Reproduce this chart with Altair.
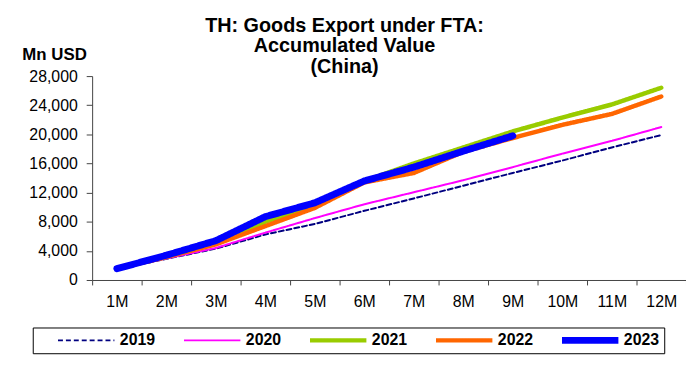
import altair as alt
import pandas as pd

months = ["1M", "2M", "3M", "4M", "5M", "6M", "7M", "8M", "9M", "10M", "11M", "12M"]
years = ["2019", "2020", "2021", "2022", "2023"]
v2019 = [1500, 2900, 4300, 6250, 7700, 9500, 11200, 12950, 14700, 16400, 18200, 19900]
v2020 = [1500, 2950, 4400, 6500, 8500, 10400, 12050, 13700, 15500, 17350, 19100, 21000]
v2021 = [1550, 3200, 5000, 8000, 10300, 13600, 16000, 18200, 20400, 22300, 24100, 26400]
v2022 = [1550, 3150, 4900, 7400, 9900, 13400, 14700, 17600, 19500, 21300, 22800, 25200]
v2023 = [1550, 3400, 5400, 8700, 10600, 13600, 15500, 17700, 19800]

colors = ["#000080", "#FF00FF", "#99CC00", "#FF6600", "#0000FF"]
widths = [2, 2, 4.5, 4.5, 7]
dashes = [[5, 3], [1, 0], [1, 0], [1, 0], [1, 0]]

rows = []
for yr, w, vals in zip(years, widths, [v2019, v2020, v2021, v2022, v2023]):
    for m, v in zip(months, vals):
        rows.append({"month": m, "year": yr, "value": v, "w": w})
df = pd.DataFrame(rows)

FONT = "Liberation Sans"

width_expr = " : ".join(
    f"datum.value == '{y}' ? {w}" for y, w in zip(years[:-1], widths[:-1])
) + f" : {widths[-1]}"

chart = alt.Chart(df).mark_line(strokeCap="round", strokeJoin="round").encode(
    x=alt.X("month:N", sort=months,
            scale=alt.Scale(type="band", domain=months, paddingInner=0, paddingOuter=0),
            bandPosition=0.5,
            axis=alt.Axis(title=None, tickBand="extent", labelAngle=0, labelFontSize=16,
                          labelPadding=9, tickSize=5)),
    y=alt.Y("value:Q",
            scale=alt.Scale(domain=[0, 28000], nice=False),
            axis=alt.Axis(values=list(range(0, 28001, 4000)), format=",.0f", title="Mn USD",
                          titleAngle=0, titleAlign="left", titleBaseline="alphabetic",
                          titleX=-71, titleY=-17, titleFontSize=17, titleFontWeight="bold",
                          labelFontSize=16, tickSize=6, labelPadding=9, grid=False)),
    color=alt.Color("year:N", scale=alt.Scale(domain=years, range=colors),
                    legend=alt.Legend(title=None, orient="none", legendX=-60, legendY=254,
                                      direction="horizontal", columns=5,
                                      symbolType="M-1,0H27.5", symbolSize=16,
                                      symbolOffset=14.5,
                                      symbolStrokeWidth=alt.ExprRef(width_expr),
                                      clipHeight=16,
                                      labelFontSize=16, labelFontWeight="bold",
                                      labelOffset=52.5, columnPadding=8.3, padding=5,
                                      strokeColor="black")),
    strokeWidth=alt.StrokeWidth("w:Q", scale=None, legend=None),
    strokeDash=alt.StrokeDash("year:N", scale=alt.Scale(domain=years, range=dashes),
                              legend=alt.Legend(title=None)),
).properties(
    width=600,
    height=206,
    title=alt.TitleParams(
        text=["TH: Goods Export under FTA:", "Accumulated Value", "(China)"],
        fontSize=20, fontWeight="bold", font=FONT, color="black",
        anchor="middle", dx=-45, dy=32, lineHeight=21, offset=0,
    ),
    autosize=alt.AutoSizeParams(type="none"),
    padding={"left": 85, "top": 67, "right": 0, "bottom": 76},
).configure_view(stroke=None).configure_axis(
    labelFont=FONT, titleFont=FONT, labelColor="black", titleColor="black",
    domainColor="#444444", tickColor="#444444",
).configure_legend(labelFont=FONT, labelColor="black")

chart.save("out.html", embed_options={"renderer": "svg", "actions": False})
